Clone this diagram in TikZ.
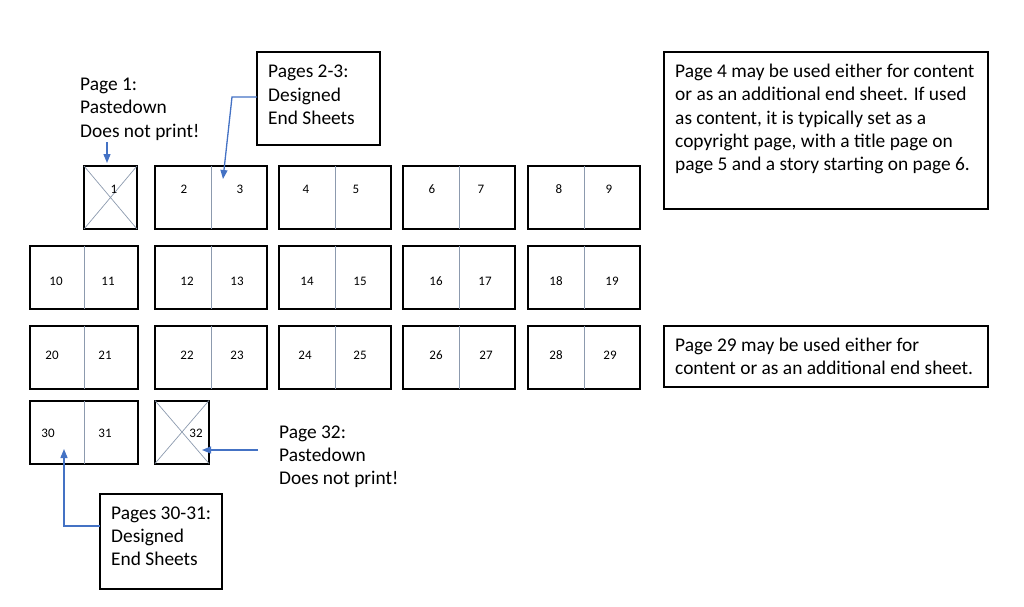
\documentclass[tikz,border=0pt]{standalone}
\usepackage{fontspec}
\setmainfont{Carlito}
\usetikzlibrary{arrows.meta}
\definecolor{arrowblue}{HTML}{4472C4}
\definecolor{divgray}{HTML}{8C9AAE}
\begin{document}
\begin{tikzpicture}[x=1pt,y=-1pt,
  spread/.style={draw=black,line width=2pt,minimum height=63pt,inner sep=0pt,outer sep=0pt},
  divider/.style={draw=divgray,line width=0.7pt},
  num/.style={font=\fontsize{13}{15}\selectfont,inner sep=0pt},
  lbl/.style={font=\fontsize{19.4}{23.3}\selectfont,align=left,anchor=north west,inner sep=0pt},
  box/.style={draw=black,line width=1.6pt,inner sep=0pt,outer sep=0pt},
  conn/.style={draw=arrowblue,line width=1.3pt},
  arr/.style={conn,-{Triangle[length=9pt,width=7pt]}}]
\useasboundingbox (0,0) rectangle (1024,606);
% row 1
\node[spread,minimum width=53pt] (p1) at (110.5,197.5) {};
\draw[divgray,line width=0.7pt] (p1.north west) -- (p1.south east) (p1.north east) -- (p1.south west);
\foreach \c/\n in {211/s23,335/s45,459/s67,584/s89}{
  \node[spread,minimum width=112pt] (\n) at (\c,197.5) {};
  \draw[divider] (\n.north) -- (\n.south);
}
% row 2
\foreach \c/\w/\n in {84/108/s1011,211/112/s1213,335/112/s1415,459/112/s1617,584/112/s1819}{
  \node[spread,minimum width=\w pt] (\n) at (\c,277) {};
  \draw[divider] (\n.north) -- (\n.south);
}
% row 3
\foreach \c/\w/\n in {84/108/s2021,211/112/s2223,335/112/s2425,459/112/s2627,584/112/s2829}{
  \node[spread,minimum width=\w pt] (\n) at (\c,357) {};
  \draw[divider] (\n.north) -- (\n.south);
}
% row 4
\node[spread,minimum width=108pt] (s3031) at (84,432) {};
\draw[divider] (s3031.north) -- (s3031.south);
\node[spread,minimum width=54pt] (p32) at (182,432) {};
\draw[divgray,line width=0.7pt] (p32.north west) -- (p32.south east) (p32.north east) -- (p32.south west);
% numbers
\foreach \x/\y/\t in {114/189/1,184/189/2,240/189/3,306/189/4,356/189/5,432/189/6,481/189/7,559/189/8,609/189/9,
  56/281/10,108/281/11,187/281/12,237/281/13,307/281/14,360/281/15,436/281/16,485/281/17,556/281/18,612/281/19,
  52/355/20,105/355/21,187/355/22,237/355/23,305/355/24,360/355/25,436/355/26,486/355/27,556/355/28,610/355/29,
  48/433/30,105/433/31,196/433/32}{
  \node[num] (n\t) at (\x,\y) {\t};
}
% labels
\node[lbl] (l1) at (80,78) {Page 1:\\Pastedown\\Does not print!};
\node[box,minimum width=123pt,minimum height=93pt] (b23) at (318.5,98.5) {};
\node[lbl] (t23) at (268,65) {Pages 2-3:\\Designed\\End Sheets};
\node[box,minimum width=324pt,minimum height=157pt] (b4) at (826,130.5) {};
\node[lbl] (t4) at (675,64) {Page 4 may be used either for content\\or as an additional end sheet. If used\\as content, it is typically set as a\\copyright page, with a title page on\\page 5 and a story starting on page 6.};
\node[box,minimum width=324pt,minimum height=61pt] (b29) at (826,356.5) {};
\node[lbl] (t29) at (675,338) {Page 29 may be used either for\\content or as an additional end sheet.};
\node[lbl] (l32) at (279,425.5) {Page 32:\\Pastedown\\Does not print!};
\node[box,minimum width=122pt,minimum height=95pt] (b3031) at (161,541.5) {};
\node[lbl] (t3031) at (111,506.5) {Pages 30-31:\\Designed\\End Sheets};
% connectors
\coordinate (a1s) at (107,142);
\coordinate (a1e) at (107,163);
\draw[arr] (a1s) -- (a1e);
\coordinate (b23k) at (232,97);
\coordinate (a23e) at (223,179);
\draw[arr] (b23.west |- b23k) -- (b23k) -- (a23e);
\coordinate (a32s) at (258,450);
\coordinate (a32e) at (202,450);
\draw[arr] (a32s) -- (a32e);
\coordinate (b30k) at (64,526);
\coordinate (a30e) at (64,449);
\draw[arr] (b3031.west |- b30k) -- (b30k) -- (a30e);
\end{tikzpicture}
\end{document}
